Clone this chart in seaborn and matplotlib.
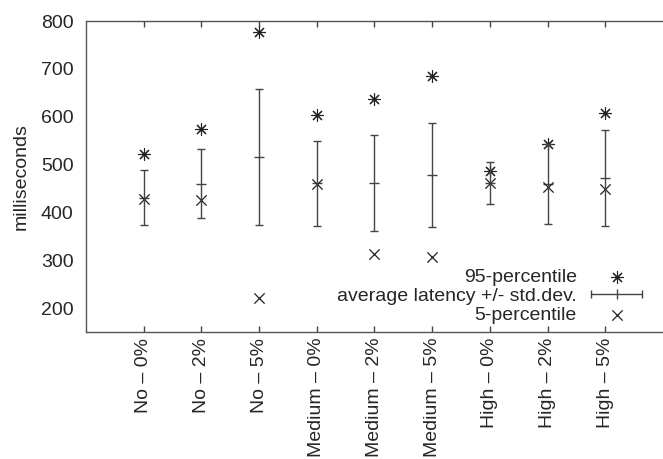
import matplotlib
matplotlib.use('Agg')
import matplotlib.pyplot as plt
from matplotlib.container import ErrorbarContainer
from matplotlib.legend_handler import HandlerErrorbar
import seaborn as sns
import pandas as pd
import numpy as np

# values
categories = ['No – 0%', 'No – 2%', 'No – 5%',
              'Medium – 0%', 'Medium – 2%', 'Medium – 5%',
              'High – 0%', 'High – 2%', 'High – 5%']
p95 = [522, 574, 778, 603, 638, 685, 486, 544, 607]
avg = [431, 460, 516, 461, 462, 478, 462, 460, 472]
std = [57, 72, 143, 89, 100, 108, 44, 84, 100]
p5 = [428, 425, 222, 459, 314, 307, 461, 454, 448]

df = pd.DataFrame({'pos': range(1, len(categories) + 1), 'p95': p95,
                   'avg': avg, 'std': std, 'p5': p5})

sns.set_style('white')
plt.rcParams['font.family'] = ['Liberation Sans', 'DejaVu Sans']

fig = plt.figure(figsize=(6.63, 4.59), dpi=100)
ax = fig.add_axes([0.1297, 0.2767, 0.8703, 0.6773])

ink = '#222222'
bar = '#444444'
sns.scatterplot(data=df, x='pos', y='p95', ax=ax, marker=(8, 2, 0), s=75,
                color=ink, linewidth=0.8, edgecolor=ink, legend=False)
ax.errorbar(df['pos'], df['avg'], yerr=df['std'], fmt='none', ecolor=bar,
            elinewidth=1.0, capsize=3, capthick=1.0)
sns.scatterplot(data=df, x='pos', y='avg', ax=ax, marker='_', s=60,
                color=bar, linewidth=1.0, legend=False)
sns.scatterplot(data=df, x='pos', y='p5', ax=ax, marker='x', s=55,
                color=ink, linewidth=0.9, legend=False)

# legend proxies (gnuplot style: horizontal error bar sample)
h95 = ax.scatter([np.nan], [np.nan], marker=(8, 2, 0), s=75, color=ink,
                 linewidth=0.8)
hbar = ax.errorbar([np.nan], [np.nan], xerr=[1], fmt='|', color=bar,
                   ecolor=bar, elinewidth=1.0, capsize=3, capthick=1.0,
                   markersize=7, markeredgewidth=1.0)
h5 = ax.scatter([np.nan], [np.nan], marker='x', s=55, color=ink,
                linewidth=0.9)

ax.set_xlim(0, 10)
ax.set_ylim(150, 800)
ax.set_xticks(df['pos'])
ax.set_xticklabels(categories, rotation=90, fontsize=14)
ax.set_yticks([200, 300, 400, 500, 600, 700, 800])
ax.tick_params(axis='y', length=0, labelsize=14, pad=9)
ax.tick_params(axis='x', direction='in', length=4, width=1, color=bar,
               top=True, bottom=True, pad=4)
ax.set_xlabel('')
ax.set_ylabel('milliseconds', fontsize=14, labelpad=8)
for side in ['left', 'top', 'bottom']:
    ax.spines[side].set_color('#555555')
    ax.spines[side].set_linewidth(1.0)
ax.spines['right'].set_visible(False)

leg = ax.legend([h95, hbar, h5],
                ['95-percentile', 'average latency +/- std.dev.', '5-percentile'],
                loc='lower right', bbox_to_anchor=(0.965, 0.025), frameon=False,
                fontsize=14, markerfirst=False, handlelength=2.7,
                labelspacing=0.08, handletextpad=0.7, borderpad=0.0,
                borderaxespad=0.0,
                handler_map={ErrorbarContainer: HandlerErrorbar(xerr_size=1.3)})
for t in leg.get_texts():
    t.set_ha('right')
leg._legend_box.align = 'right'

fig.savefig('out.png', dpi=100)
